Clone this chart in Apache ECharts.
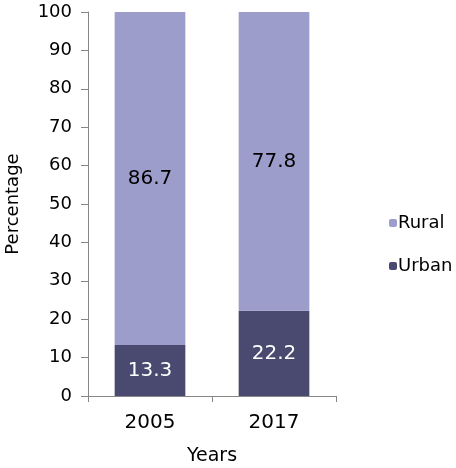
<!DOCTYPE html>
<html>
<head>
<meta charset="utf-8">
<script src="https://cdn.jsdelivr.net/npm/echarts@6/dist/echarts.min.js"></script>
<style>
  html, body { margin: 0; padding: 0; background: #fff; }
  #chart { width: 456px; height: 468px; }
</style>
</head>
<body>
<div id="chart"></div>
<script>
// Share of population by area, stacked to 100%
const years = ['2005', '2017'];
const urban = [13.3, 22.2];
const rural = [86.7, 77.8];

const FONT = '"DejaVu Sans", Verdana, sans-serif';
const AXIS_GRAY = '#868686';

const chart = echarts.init(document.getElementById('chart'));
chart.setOption({
  animation: false,
  textStyle: { fontFamily: FONT },
  grid: { left: 88, right: 120, top: 12, bottom: 72, containLabel: false, outerBoundsMode: 'none' },
  legend: {
    orient: 'vertical',
    left: 389,
    top: 214,
    padding: 0,
    itemWidth: 8,
    itemHeight: 8,
    itemGap: 25,
    data: ['Rural', 'Urban'],
    textStyle: { fontFamily: FONT, fontSize: 18, color: '#000', padding: [0, 0, 0, -4] }
  },
  xAxis: {
    type: 'category',
    data: years,
    name: 'Years',
    nameLocation: 'middle',
    nameGap: 51,
    nameTextStyle: { fontFamily: FONT, fontSize: 19, color: '#000' },
    axisLine: { lineStyle: { color: AXIS_GRAY } },
    axisTick: { show: true, length: 6, lineStyle: { color: AXIS_GRAY } },
    axisLabel: { fontFamily: FONT, fontSize: 20, color: '#000', margin: 17 }
  },
  yAxis: {
    type: 'value',
    min: 0,
    max: 100,
    interval: 10,
    name: 'Percentage',
    nameLocation: 'middle',
    nameGap: 66,
    nameTextStyle: { fontFamily: FONT, fontSize: 18, color: '#000' },
    axisLine: { show: true, lineStyle: { color: AXIS_GRAY } },
    axisTick: { show: true, length: 7, lineStyle: { color: AXIS_GRAY } },
    axisLabel: { fontFamily: FONT, fontSize: 18, color: '#000', margin: 16 },
    splitLine: { show: false }
  },
  series: [
    {
      name: 'Urban',
      type: 'bar',
      stack: 'total',
      barWidth: '57%',
      data: urban,
      itemStyle: { color: '#4a4a70' },
      label: { show: true, position: 'inside', color: '#fff', fontFamily: FONT, fontSize: 20 }
    },
    {
      name: 'Rural',
      type: 'bar',
      stack: 'total',
      barWidth: '57%',
      data: rural,
      itemStyle: { color: '#9d9dcc' },
      label: { show: true, position: 'inside', color: '#000', fontFamily: FONT, fontSize: 20 }
    }
  ]
});
</script>
</body>
</html>
